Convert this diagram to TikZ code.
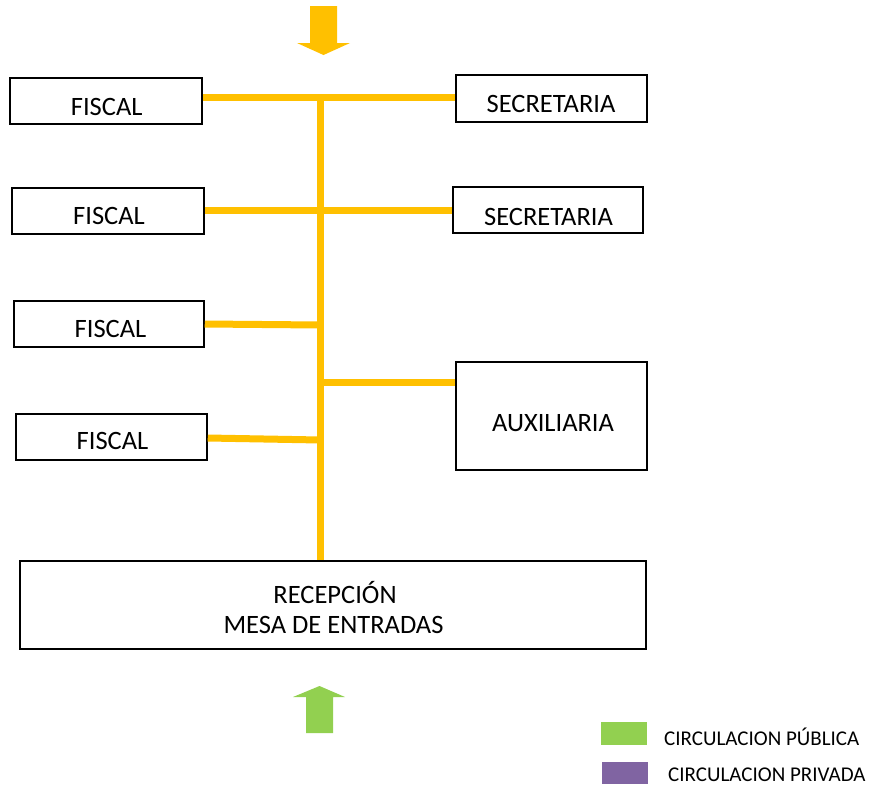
\documentclass[tikz,border=0pt]{standalone}
\usepackage{fontspec}
\setmainfont{Carlito}
\definecolor{corr}{HTML}{FFC000}
\definecolor{pub}{HTML}{92D050}
\definecolor{priv}{HTML}{8064A2}
\begin{document}
\begin{tikzpicture}[x=1pt,y=-1pt,
  box/.style={draw=black,line width=1.5pt,fill=white,inner sep=0pt},
  lbl/.style={inner sep=0pt,font=\fontsize{26.5}{30}\selectfont,anchor=base},
  leg/.style={inner sep=0pt,font=\fontsize{21}{23}\selectfont,anchor=base west},
  conn/.style={draw=corr,line width=7pt}]
\useasboundingbox (0,0) rectangle (878,785);
% boxes
\node[box,minimum width=192pt,minimum height=46pt] (f1) at (106,101) {};
\node[box,minimum width=191pt,minimum height=47pt] (s1) at (551.5,98.5) {};
\node[box,minimum width=192pt,minimum height=46pt] (f2) at (108,211) {};
\node[box,minimum width=190pt,minimum height=46pt] (s2) at (548,210) {};
\node[box,minimum width=190pt,minimum height=46pt] (f3) at (109,324) {};
\node[box,minimum width=191pt,minimum height=108pt] (aux) at (551.5,416) {};
\node[box,minimum width=191pt,minimum height=46pt] (f4) at (111.5,437) {};
\node[box,minimum width=626pt,minimum height=88pt] (rec) at (333,605) {};
% labels
\node[lbl] (f1t) at (106.7,115) {FISCAL};
\node[lbl] (s1t) at (551,112.3) {SECRETARIA};
\node[lbl] (f2t) at (109,224.5) {FISCAL};
\node[lbl] (s2t) at (548.5,225) {SECRETARIA};
\node[lbl] (f3t) at (110.5,337.5) {FISCAL};
\node[lbl] (auxt) at (553,431.7) {AUXILIARIA};
\node[lbl] (f4t) at (112.5,449.5) {FISCAL};
\node[lbl] (rect1) at (335,603) {RECEPCIÓN};
\node[lbl] (rect2) at (333.5,633) {MESA DE ENTRADAS};
% spine
\coordinate (top) at (320.5,97);
\draw[conn] (top) -- (top |- rec.north);
\coordinate (l1) at (320.5,97);
\coordinate (l2) at (320.5,210);
\coordinate (l3) at (320.5,325);
\coordinate (l4) at (320.5,440);
\coordinate (l5) at (320.5,382);
\draw[conn] (f1.east |- l1) -- (s1.west |- l1);
\draw[conn] (f2.east |- l2) -- (s2.west |- l2);
\draw[conn] (f3.east) -- (l3);
\draw[conn] ([yshift=-1pt]f4.east) -- (l4);
\draw[conn] (l5) -- (aux.west |- l5);
% arrows
\fill[corr] (310,6) -- (337,6) -- (337,43) -- (350,43) -- (323.5,55) -- (297,43) -- (310,43) -- cycle;
\fill[pub] (306,733) -- (333,733) -- (333,697) -- (345,697) -- (319.5,686) -- (293,697) -- (306,697) -- cycle;
% legend
\node[fill=pub,minimum width=46pt,minimum height=23pt,inner sep=0pt] (lg1) at (624,733.5) {};
\node[fill=priv,minimum width=46pt,minimum height=22pt,inner sep=0pt] (lg2) at (625,773) {};
\node[leg] (lg1t) at (664,745.5) {CIRCULACION PÚBLICA};
\node[leg] (lg2t) at (668,781.5) {CIRCULACION PRIVADA};
\end{tikzpicture}
\end{document}
